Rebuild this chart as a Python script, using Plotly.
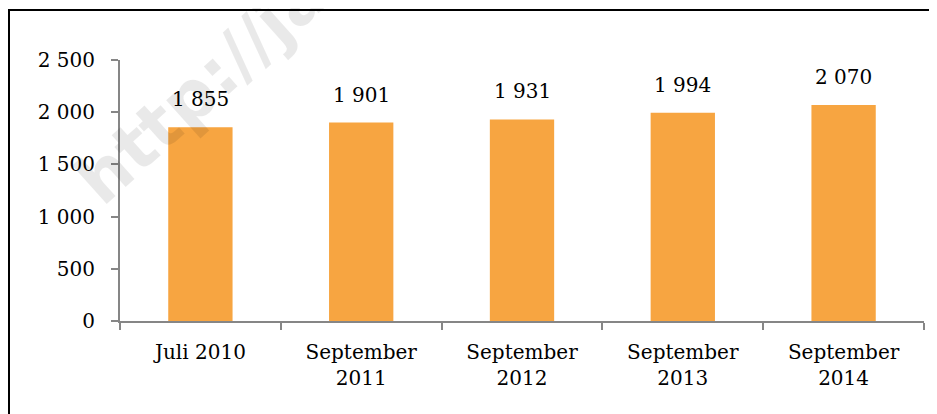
import plotly.graph_objects as go

categories = ["Juli 2010", "September<br>2011", "September<br>2012", "September<br>2013", "September<br>2014"]
values = [1855, 1901, 1931, 1994, 2070]
y_ticks = [0, 500, 1000, 1500, 2000, 2500]
y_tick_labels = ["0", "500", "1 000", "1 500", "2 000", "2 500"]

bar_color = "#F7A541"
axis_color = "#868686"
font_family = "DejaVu Serif"

fig = go.Figure()
fig.add_trace(go.Bar(
    x=categories, y=values, marker=dict(color=bar_color, line=dict(width=0)),
    width=0.4, hoverinfo="skip",
))

for c, v in zip(categories, values):
    fig.add_annotation(x=c, y=v, text=f"{v:,}".replace(",", " "), showarrow=False,
                       yanchor="bottom", yshift=14,
                       font=dict(family=font_family, size=20, color="black"))

# watermark
fig.add_annotation(xref="paper", yref="paper", x=0.337, y=1.548, text="<b>http://jatim.bps.go.id</b>",
                   showarrow=False, textangle=-42, xanchor="center", yanchor="middle",
                   font=dict(family="DejaVu Sans", size=68, color="rgba(0,0,0,0.085)"))

# frame border
fig.add_shape(type="rect", xref="paper", yref="paper",
              x0=(9 - 120) / 804, x1=(960 - 120) / 804,
              y0=(321 - 440) / 261, y1=(321 - 10) / 261,
              line=dict(color="black", width=2), fillcolor="rgba(0,0,0,0)", layer="above")

fig.update_layout(
    width=937, height=414,
    margin=dict(l=112, r=21, t=52, b=101),
    paper_bgcolor="white", plot_bgcolor="white",
    showlegend=False,
    font=dict(family=font_family, size=20, color="black"),
    bargap=0.6,
)
fig.update_xaxes(
    type="category", showline=True, linecolor=axis_color, linewidth=2,
    ticks="outside", tickson="boundaries", ticklen=7, tickcolor=axis_color, tickwidth=2,
    showgrid=False, tickfont=dict(family=font_family, size=20, color="black"),
    ticklabelstandoff=12,
)
fig.update_yaxes(
    range=[0, 2500], tickvals=y_ticks, ticktext=y_tick_labels,
    showline=True, linecolor=axis_color, linewidth=2,
    ticks="outside", ticklen=7, tickcolor=axis_color, tickwidth=2,
    showgrid=False, zeroline=False, tickfont=dict(family=font_family, size=20, color="black"),
    ticklabelstandoff=12,
)

fig.write_html("out.html")
